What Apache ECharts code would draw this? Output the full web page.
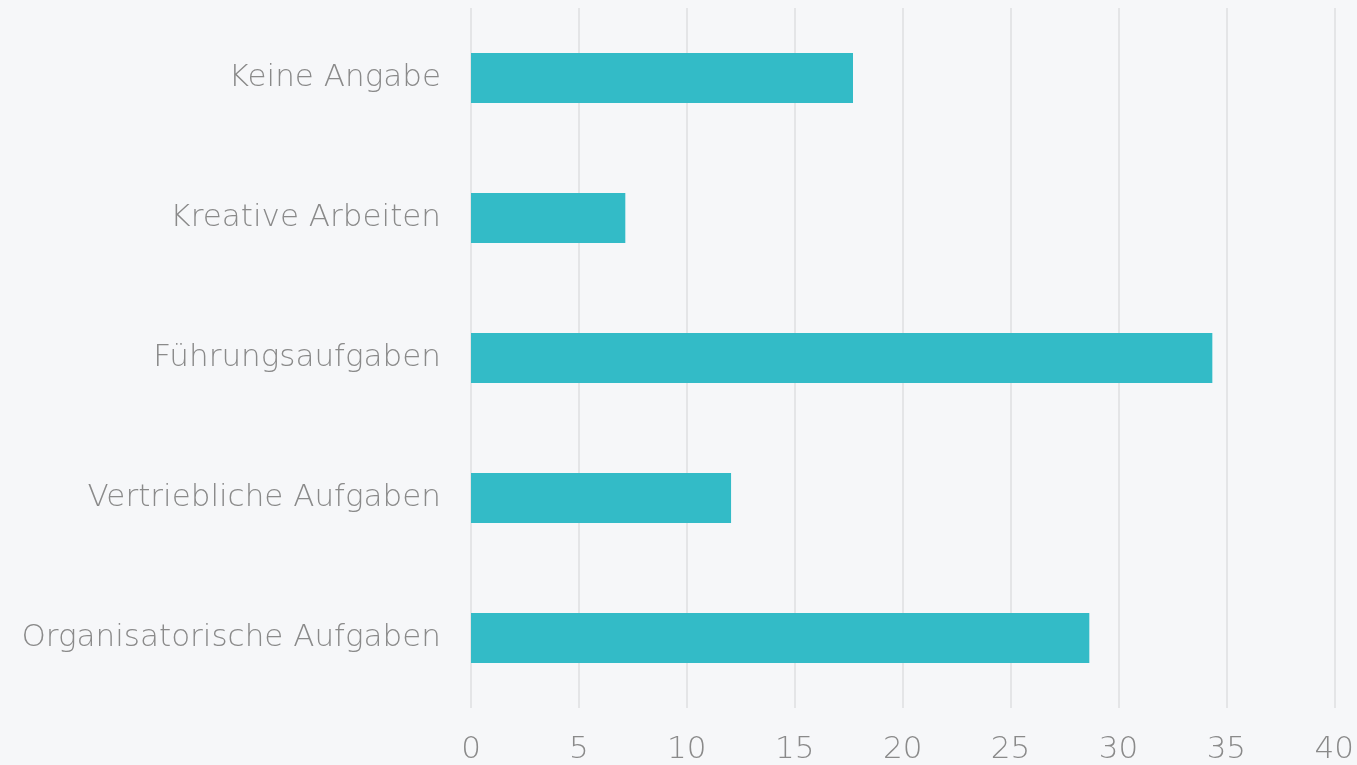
<!DOCTYPE html>
<html><head><meta charset="utf-8">
<script src="https://cdn.jsdelivr.net/npm/echarts@6/dist/echarts.min.js"></script>
<style>html,body{margin:0;padding:0;background:#f6f7f9}#c{width:1357px;height:765px}</style>
</head><body><div id="c"></div>
<script>
const categories = ["Keine Angabe", "Kreative Arbeiten", "Führungsaufgaben", "Vertriebliche Aufgaben", "Organisatorische Aufgaben"];
const values = [17.7, 7.15, 34.35, 12.05, 28.65];
const xTicks = { min: 0, max: 40, interval: 5 };

const chart = echarts.init(document.getElementById('c'));
chart.setOption({
  backgroundColor: '#f6f7f9',
  animation: false,
  grid: { left: 471, right: 22, top: 8, bottom: 55 },
  xAxis: {
    type: 'value', min: xTicks.min, max: xTicks.max, interval: xTicks.interval,
    axisLine: { show: false }, axisTick: { show: false },
    splitLine: { show: true, lineStyle: { color: '#e4e5e7', width: 2 } },
    axisLabel: { color: '#8a8a8a', fontSize: 31, fontFamily: 'DejaVu Sans', fontWeight: 200, margin: 26 }
  },
  yAxis: {
    type: 'category', data: categories, inverse: true,
    axisLine: { show: false }, axisTick: { show: false },
    axisLabel: { color: '#8a8a8a', fontSize: 31, fontFamily: 'DejaVu Sans', fontWeight: 200, margin: 30 }
  },
  series: [{
    type: 'bar', data: values, barWidth: 50,
    itemStyle: { color: '#33bbc7' }
  }]
});
</script></body></html>
